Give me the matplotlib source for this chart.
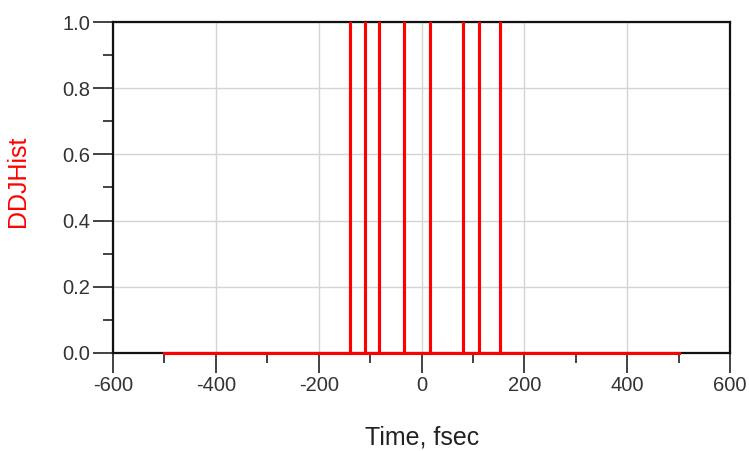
import matplotlib
matplotlib.use("Agg")
import matplotlib.pyplot as plt
from matplotlib.ticker import MultipleLocator
import numpy as np

plt.rcParams['font.family'] = ['Liberation Sans', 'DejaVu Sans']

# Data (time in fsec)
hist_start = -500
hist_end = 500
spike_times = [-139, -109, -82, -34, 16, 81, 112, 153]
spike_values = [1.0, 1.0, 1.0, 1.0, 1.0, 1.0, 1.0, 1.0]
x_ticks = [-600, -400, -200, 0, 200, 400, 600]
y_ticks = [0.0, 0.2, 0.4, 0.6, 0.8, 1.0]

# Build the histogram trace: baseline at zero with vertical spikes
xs = [hist_start]
ys = [0.0]
for t, v in zip(spike_times, spike_values):
    xs += [t, t, t]
    ys += [0.0, v, 0.0]
xs.append(hist_end)
ys.append(0.0)

fig = plt.figure(figsize=(7.49, 4.51), dpi=100)
ax = fig.add_axes([113/749, 1 - 353/451, (730 - 113)/749, (353 - 22)/451])

ax.set_xlim(-600, 600)
ax.set_ylim(0, 1.0)
ax.set_xticks(x_ticks)
ax.set_yticks(y_ticks)
ax.set_xticklabels([str(t) for t in x_ticks])
ax.set_yticklabels([f"{t:.1f}" for t in y_ticks])
ax.xaxis.set_minor_locator(MultipleLocator(100))
ax.yaxis.set_minor_locator(MultipleLocator(0.1))

ax.grid(True, which='major', color='#d4d4d4', linewidth=1.0)
ax.set_axisbelow(True)

ax.plot(xs, ys, color='#ff0000', linewidth=2.2, solid_joinstyle='miter',
        zorder=3, clip_on=False)

for s in ax.spines.values():
    s.set_color('#111111')
    s.set_linewidth(1.6)
ax.spines['bottom'].set_zorder(2)

ax.tick_params(axis='both', which='major', direction='out', length=14.5,
               width=1.2, color='#222222', labelcolor='#333333', labelsize=14.5)
ax.tick_params(axis='x', which='major', pad=2)
ax.tick_params(axis='y', which='major', pad=2)
ax.tick_params(axis='both', which='minor', direction='out', length=7.5,
               width=1.2, color='#222222')

fig.text(18/749, 1 - 181/451, 'DDJHist', color='#ff0000', fontsize=18,
         rotation=90, ha='center', va='center')
fig.text(422/749, 1 - 437/451, 'Time, fsec', color='#222222', fontsize=18,
         ha='center', va='center')

fig.savefig('out.png', dpi=100)
